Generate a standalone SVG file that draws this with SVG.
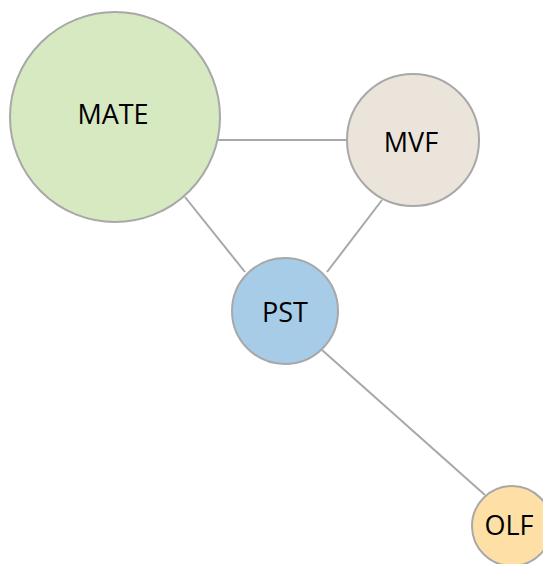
<svg xmlns="http://www.w3.org/2000/svg" width="543" height="564" viewBox="0 0 543 564">
<style>
.edge{stroke:#a8a8a8;stroke-width:2;fill:none}
.node circle{stroke:#a8a8a8;stroke-width:2}
.node text{font-family:"Open Sans","Liberation Sans",sans-serif;font-size:27px;fill:#000;text-anchor:middle}
</style>
<rect width="543" height="564" fill="#fff"/>
<g id="connectors">
<line class="edge" x1="218" y1="140" x2="349" y2="140"/>
<line class="edge" x1="185" y1="197" x2="245" y2="272"/>
<line class="edge" x1="382" y1="200" x2="327" y2="272"/>
<line class="edge" x1="322" y1="350" x2="485" y2="495"/>
</g>
<g id="MATE" class="node"><circle cx="115" cy="117" r="105" fill="#d7e9c0"/><text x="113" y="124">MATE</text></g>
<g id="MVF" class="node"><circle cx="413" cy="140" r="66" fill="#ebe4da"/><text x="411" y="152">MVF</text></g>
<g id="PST" class="node"><circle cx="285" cy="311" r="53" fill="#a7cce7"/><text x="285" y="322">PST</text></g>
<g id="OLF" class="node"><circle cx="512" cy="526" r="40" fill="#fee0a7"/><text x="509" y="535">OLF</text></g>
</svg>
